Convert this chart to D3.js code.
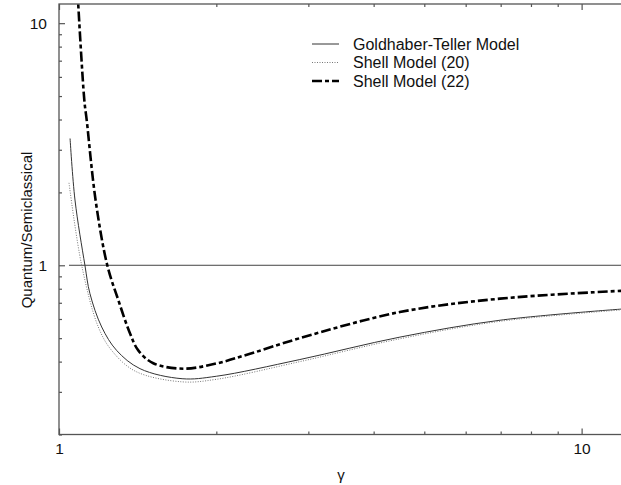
<!DOCTYPE html>
<html>
<head>
<meta charset="utf-8">
<script src="https://cdn.jsdelivr.net/npm/d3@7"></script>
<style>
  body { margin: 0; background: #fff; }
  svg { display: block; font-family: "Liberation Sans", Arial, sans-serif; }
</style>
</head>
<body>
<svg width="621" height="485"></svg>
<script>
// values (gamma, ratio)
const gtGamma = [1.05, 1.073, 1.121, 1.146, 1.207, 1.289, 1.429, 1.72, 2.0, 2.89, 4.49, 6.98, 12];
const gtValue = [3.34, 1.86, 1.0, 0.764, 0.556, 0.445, 0.374, 0.340, 0.348, 0.408, 0.505, 0.593, 0.66];

const sm20Gamma = [1.045, 1.105, 1.189, 1.261, 1.40, 1.72, 2.0, 2.89, 4.49, 6.98, 12];
const sm20Value = [2.19, 1.0, 0.556, 0.445, 0.365, 0.330, 0.338, 0.400, 0.497, 0.587, 0.655];

const sm22Gamma = [1.085, 1.118, 1.130, 1.175, 1.237, 1.299, 1.367, 1.418, 1.515, 1.73, 2.0, 2.32, 2.89, 4.49, 6.98, 12];
const sm22Value = [13.5, 4.81, 3.97, 1.856, 1.0, 0.717, 0.524, 0.445, 0.394, 0.374, 0.393, 0.431, 0.50, 0.641, 0.728, 0.785];

const xMajor = [1, 10];
const xMinor = [2, 3, 4, 5, 6, 7, 8, 9];
const yMajor = [1, 10];
const yMinor = [0.2, 0.3, 0.4, 0.5, 0.6, 0.7, 0.8, 0.9, 2, 3, 4, 5, 6, 7, 8, 9];

const legendNames = ['Goldhaber-Teller Model', 'Shell Model (20)', 'Shell Model (22)'];

const svg = d3.select('svg');
const plotL = 59, plotR = 623, plotT = 4, plotB = 434.5;

const x = d3.scaleLog().domain([1, 12]).range([plotL, plotR]);
const y = d3.scaleLog().domain([0.2, 12]).range([plotB, plotT]);

const axisColor = '#555';

svg.append('clipPath').attr('id', 'clip')
  .append('rect').attr('x', plotL).attr('y', plotT).attr('width', plotR - plotL).attr('height', plotB - plotT);

// frame
svg.append('rect')
  .attr('x', plotL).attr('y', plotT).attr('width', plotR - plotL).attr('height', plotB - plotT)
  .attr('fill', 'none').attr('stroke', axisColor).attr('stroke-width', 1.3);

function drawAxis(axis, transform, labels) {
  const g = svg.append('g').attr('transform', transform).call(axis);
  g.select('.domain').remove();
  g.selectAll('line').attr('stroke', axisColor).attr('stroke-width', 1.2);
  g.selectAll('text').attr('font-size', 15.5).attr('fill', '#111');
  if (!labels) g.selectAll('text').remove();
  return g;
}

drawAxis(d3.axisBottom(x).tickValues(xMajor).tickFormat(d3.format('d')).tickSize(-6).tickPadding(8), `translate(0,${plotB})`, true);
drawAxis(d3.axisBottom(x).tickValues(xMinor).tickSize(-3), `translate(0,${plotB})`, false);
drawAxis(d3.axisTop(x).tickValues(xMajor).tickSize(-6), `translate(0,${plotT})`, false);
drawAxis(d3.axisTop(x).tickValues(xMinor).tickSize(-3), `translate(0,${plotT})`, false);
drawAxis(d3.axisLeft(y).tickValues(yMajor).tickFormat(d3.format('d')).tickSize(-6).tickPadding(12), `translate(${plotL},0)`, true);
drawAxis(d3.axisLeft(y).tickValues(yMinor).tickSize(-3), `translate(${plotL},0)`, false);

// axis titles
svg.append('text')
  .attr('x', (plotL + plotR) / 2).attr('y', 480)
  .attr('text-anchor', 'middle').attr('font-size', 15).attr('fill', '#111')
  .text('γ');

svg.append('text')
  .attr('transform', `translate(32,230) rotate(-90)`)
  .attr('text-anchor', 'middle').attr('font-size', 15).attr('fill', '#111')
  .text('Quantum/Semiclassical');

const plot = svg.append('g').attr('clip-path', 'url(#clip)');

// reference line at 1
plot.append('line')
  .attr('x1', x(1.045)).attr('x2', x(12))
  .attr('y1', y(1)).attr('y2', y(1))
  .attr('stroke', '#444').attr('stroke-width', 1);

const line = d3.line()
  .x(d => x(d[0]))
  .y(d => y(d[1]))
  .curve(d3.curveCatmullRom.alpha(0.5));

const styles = [
  { stroke: '#333', width: 1, dash: null },
  { stroke: '#777', width: 1, dash: '1,1.5' },
  { stroke: '#000', width: 2.6, dash: '10,3,4,3' }
];

const series = [
  d3.zip(gtGamma, gtValue),
  d3.zip(sm20Gamma, sm20Value),
  d3.zip(sm22Gamma, sm22Value)
];

series.forEach((s, i) => {
  plot.append('path')
    .datum(s)
    .attr('d', line)
    .attr('fill', 'none')
    .attr('stroke', styles[i].stroke)
    .attr('stroke-width', styles[i].width)
    .attr('stroke-dasharray', styles[i].dash);
});

// legend
const legend = svg.append('g').attr('transform', 'translate(312,44)');
legendNames.forEach((name, i) => {
  const row = legend.append('g').attr('transform', `translate(0,${i * 18.5})`);
  row.append('line')
    .attr('x1', 0).attr('x2', 27).attr('y1', 0).attr('y2', 0)
    .attr('stroke', styles[i].stroke)
    .attr('stroke-width', styles[i].width)
    .attr('stroke-dasharray', styles[i].dash);
  row.append('text')
    .attr('x', 41).attr('y', 0).attr('dy', '0.35em')
    .attr('font-size', 16).attr('fill', '#111')
    .text(name);
});
</script>
</body>
</html>
